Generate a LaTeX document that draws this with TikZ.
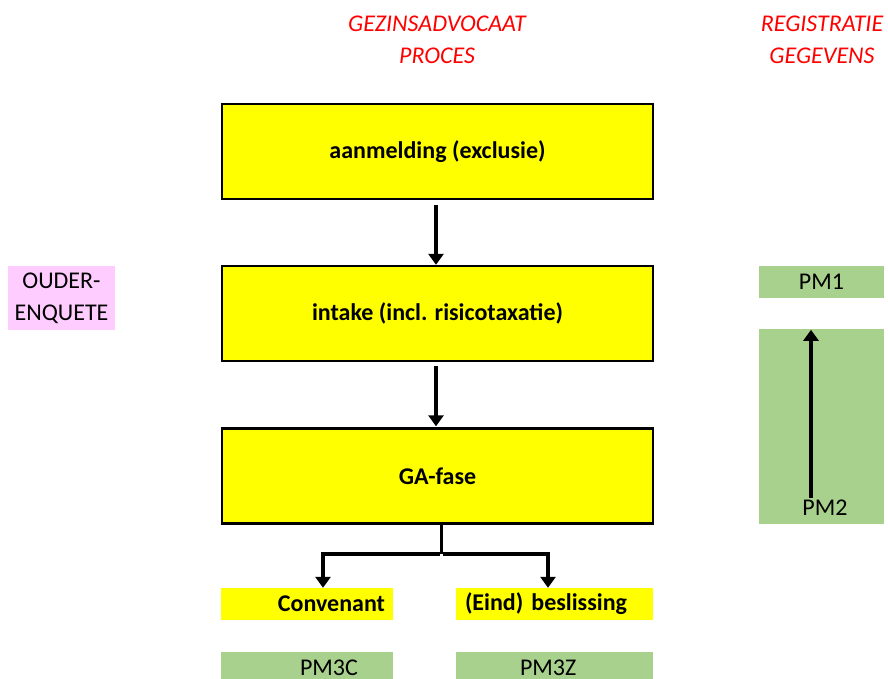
\documentclass[tikz,border=0pt]{standalone}
\usepackage{fontspec}
\setmainfont{Carlito}
\usetikzlibrary{arrows.meta,positioning,calc}
\definecolor{gayellow}{HTML}{FFFF00}
\definecolor{pmgreen}{HTML}{A9D18E}
\definecolor{enqpink}{HTML}{FFCCFF}
\definecolor{kopred}{HTML}{FF0000}

\begin{document}
\begin{tikzpicture}[x=1pt,y=-1pt,
  fase/.style={draw=black,line width=2.4pt,fill=gayellow,font=\bfseries\fontsize{24}{28}\selectfont,minimum width=431pt,minimum height=95pt,inner sep=0pt},
  uitkomst/.style={fill=gayellow,font=\bfseries\fontsize{24}{28}\selectfont,minimum height=32pt,inner sep=0pt},
  pm/.style={fill=pmgreen,font=\fontsize{24}{28}\selectfont,minimum height=32pt,inner sep=0pt},
  kop/.style={text=kopred,font=\itshape\fontsize{24}{32}\selectfont,align=center},
  arr/.style={-{Triangle[length=11pt,width=15pt]},line width=3.6pt}]
\useasboundingbox (0,0) rectangle (888,678);
% kolomkoppen
\node[kop] (kopga) at (437,40) {GEZINSADVOCAAT\\PROCES};
\node[kop] (kopreg) at (822,40) {REGISTRATIE\\GEGEVENS};
% proces
\node[fase] (aanm) at (437.5,151.5) {aanmelding (exclusie)};
\node[fase] (intake) at (437.5,313.5) {intake (incl. risicotaxatie)};
\node[fase] (gafase) at (437.5,476) {GA-fase};
\node[uitkomst,text width=172pt,align=right] (conv) at (307,604) {Convenant\kern8pt};
\node[uitkomst,text width=197pt,align=left] (besl) at (554.5,604) {\hspace*{9pt}(Eind) beslissing};
\node[pm,text width=172pt,align=left] (pmc) at (307,668) {\hspace*{79pt}PM3C};
\node[pm,text width=197pt,align=left] (pmz) at (554.5,668) {\hspace*{64pt}PM3Z};
% enquete en registratie
\node[fill=enqpink,font=\fontsize{24}{32}\selectfont,align=center,minimum width=107pt,minimum height=64pt,inner sep=0pt] (enq) at (61.5,298) {OUDER-\\ENQUETE};
\node[pm,minimum width=125pt] (pmeen) at (821.5,282) {PM1};
\node[fill=pmgreen,minimum width=125pt,minimum height=195pt,inner sep=0pt] (pmtwee) at (821.5,426.5) {};
\node[font=\fontsize{24}{28}\selectfont,inner sep=2pt] (pmtweetxt) at (825,508) {PM2};
\draw[arr] ([xshift=-1.5pt,yshift=-5pt]aanm.south) -- ([xshift=-1.5pt]intake.north);
\draw[arr] ([xshift=-1.5pt,yshift=-4pt]intake.south) -- ([xshift=-1.5pt,yshift=1pt]gafase.north);
\draw[arr,-] ([xshift=4pt]gafase.south) -- ++(0,29) coordinate (split);
\draw[arr] ([xshift=-1.8pt]split) -| ([xshift=16pt]conv.north);
\draw[arr] ([xshift=1.8pt]split) -| ([xshift=-6.5pt]besl.north);
\draw[arr] ([xshift=-14pt]pmtweetxt.north) -- ([xshift=-14pt,yshift=-1pt]pmtweetxt.north |- pmtwee.north);
\end{tikzpicture}
\end{document}
